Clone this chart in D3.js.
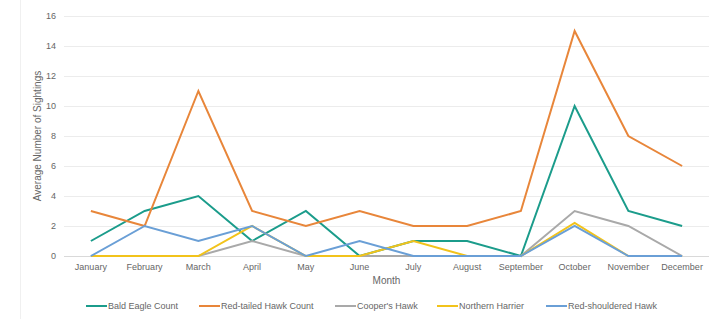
<!DOCTYPE html>
<html>
<head>
<meta charset="utf-8">
<script src="https://cdn.jsdelivr.net/npm/d3@7"></script>
<style>
  body { margin: 0; background: #fff; }
  text { font-family: "Liberation Sans", Arial, sans-serif; }
</style>
</head>
<body>
<div id="vis-holder"></div>
<script>
// Data
const months = ["January", "February", "March", "April", "May", "June", "July",
                "August", "September", "October", "November", "December"];
const seriesNames = ["Bald Eagle Count", "Red-tailed Hawk Count", "Cooper's Hawk",
                     "Northern Harrier", "Red-shouldered Hawk"];
const baldEagle     = [1, 3, 4, 1, 3, 0, 1, 1, 0, 10, 3, 2];
const redTailed     = [3, 2, 11, 3, 2, 3, 2, 2, 3, 15, 8, 6];
const coopers       = [0, 0, 0, 1, 0, 0, 0, 0, 0, 3, 2, 0];
const northHarrier  = [0, 0, 0, 2, 0, 0, 1, 0, 0, 2.2, 0, 0];
const redShouldered = [0, 2, 1, 2, 0, 1, 0, 0, 0, 2, 0, 0];
const yTicks = [0, 2, 4, 6, 8, 10, 12, 14, 16];
const colors = ["#1b9c8b", "#e8863a", "#a9a9a9", "#f2c31b", "#6a9fd6"];

const seriesValues = [baldEagle, redTailed, coopers, northHarrier, redShouldered];

const width = 709, height = 319;
const margin = { top: 16, right: 0, bottom: 63, left: 64 };

const svg = d3.select("#vis-holder")
              .append("svg")
              .attr("width", width)
              .attr("height", height);

// faint left border
svg.append("line")
   .attr("x1", 20.5).attr("x2", 20.5)
   .attr("y1", 0).attr("y2", height)
   .attr("stroke", "#f0f0f0");

const x = d3.scalePoint()
            .domain(months)
            .range([margin.left, width - margin.right])
            .padding(0.5);

const y = d3.scaleLinear()
            .domain([0, 16])
            .range([height - margin.bottom, margin.top]);

// gridlines
svg.append("g")
   .selectAll("line")
   .data(yTicks)
   .enter()
   .append("line")
   .attr("x1", margin.left)
   .attr("x2", width - margin.right)
   .attr("y1", (d) => Math.round(y(d)) + 0.5)
   .attr("y2", (d) => Math.round(y(d)) + 0.5)
   .attr("stroke", (d) => d === 0 ? "#d9d9d9" : "#ececec");

// y tick labels
svg.append("g")
   .selectAll("text")
   .data(yTicks)
   .enter()
   .append("text")
   .attr("x", 56)
   .attr("y", (d) => y(d))
   .attr("dy", "0.35em")
   .attr("text-anchor", "end")
   .attr("font-size", "9px")
   .attr("fill", "#666")
   .text((d) => d);

// x tick labels
svg.append("g")
   .selectAll("text")
   .data(months)
   .enter()
   .append("text")
   .attr("x", (d) => x(d))
   .attr("y", 270)
   .attr("text-anchor", "middle")
   .attr("font-size", "9px")
   .attr("fill", "#666")
   .text((d) => d);

// axis titles
svg.append("text")
   .attr("x", (margin.left + width - margin.right) / 2)
   .attr("y", 284)
   .attr("text-anchor", "middle")
   .attr("font-size", "10px")
   .attr("fill", "#666")
   .text("Month");

svg.append("text")
   .attr("transform", `translate(41,${(margin.top + height - margin.bottom) / 2}) rotate(-90)`)
   .attr("text-anchor", "middle")
   .attr("font-size", "10px")
   .attr("fill", "#666")
   .text("Average Number of Sightings");

// lines
const line = d3.line()
               .x((d, i) => x(months[i]))
               .y((d) => y(d));

seriesValues.forEach((vals, i) => {
  svg.append("path")
     .datum(vals)
     .attr("fill", "none")
     .attr("stroke", colors[i])
     .attr("stroke-width", 2)
     .attr("stroke-linejoin", "miter")
     .attr("d", line);
});

// legend
const legendX = [86, 199, 335, 437, 546];
const legend = svg.append("g");
seriesNames.forEach((name, i) => {
  legend.append("line")
        .attr("x1", legendX[i]).attr("x2", legendX[i] + 21)
        .attr("y1", 306).attr("y2", 306)
        .attr("stroke", colors[i])
        .attr("stroke-width", 2);
  legend.append("text")
        .attr("x", legendX[i] + 22)
        .attr("y", 306)
        .attr("dy", "0.35em")
        .attr("font-size", "9px")
        .attr("fill", "#666")
        .text(name);
});
</script>
</body>
</html>
